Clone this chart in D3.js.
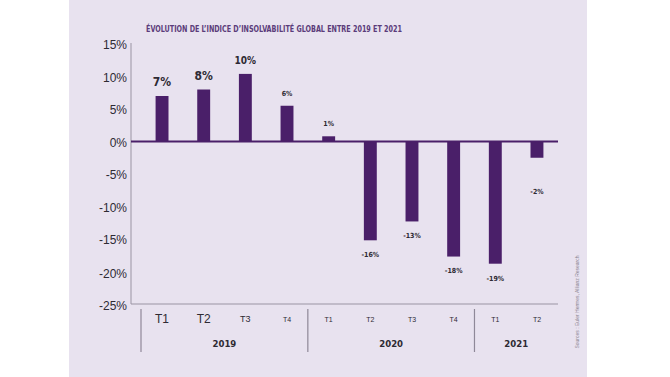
<!DOCTYPE html>
<html>
<head>
<meta charset="utf-8">
<script src="https://cdn.jsdelivr.net/npm/d3@7"></script>
<style>
  body { margin: 0; background: #fff; }
  svg { display: block; }
</style>
</head>
<body>
<div id="chart"></div>
<script>
'use strict';

// data
const quarters = ['T1', 'T2', 'T3', 'T4', 'T1', 'T2', 'T3', 'T4', 'T1', 'T2'];
const years = ['2019', '2019', '2019', '2019', '2020', '2020', '2020', '2020', '2021', '2021'];
const values = [7, 8, 10.4, 5.5, 0.8, -15.2, -12.3, -17.7, -18.8, -2.5];
const valueLabels = ['7%', '8%', '10%', '6%', '1%', '-16%', '-13%', '-18%', '-19%', '-2%'];
const yTicks = [15, 10, 5, 0, -5, -10, -15, -20, -25];

const width = 670;
const height = 377;
const barColor = '#4a1f69';
const textColor = '#2e2a33';
const font = '"Liberation Sans", Arial, sans-serif';
const narrow = '"Liberation Sans Narrow", "DejaVu Sans Condensed", sans-serif';

// label sizes vary in the original layout
const labelSize = [12, 12, 10, 7, 7, 7, 7, 7, 7, 7];
const tickSize = [12, 12, 9, 7, 7, 7, 7, 7, 7, 7];
const labelGap = [14, 14, 13, 12, 13, 14, 14, 14, 15, 34];

const svg = d3.select('#chart')
  .append('svg')
    .attr('width', width)
    .attr('height', height);

// lavender panel
svg.append('rect')
  .attr('x', 69)
  .attr('y', 0)
  .attr('width', 518)
  .attr('height', 377)
  .attr('fill', '#e8e2ef');

svg.append('text')
  .attr('x', 146)
  .attr('y', 32)
  .attr('font-family', narrow)
  .attr('font-weight', 'bold')
  .attr('font-size', 8.5)
  .attr('fill', '#5b3c7a')
  .attr('textLength', 256)
  .attr('lengthAdjust', 'spacingAndGlyphs')
  .text('ÉVOLUTION DE L\u2019INDICE D\u2019INSOLVABILITÉ GLOBAL ENTRE 2019 ET 2021');

const axisX = 131;
const axisEnd = 558;

const y = d3.scaleLinear()
  .domain([-25, 15])
  .range([304, 44]);

const x = d3.scaleBand()
  .domain(d3.range(values.length))
  .range([141, axisEnd])
  .paddingInner(0.69)
  .paddingOuter(0.35);

// y axis line
svg.append('line')
  .attr('x1', axisX).attr('x2', axisX)
  .attr('y1', y(15) - 1).attr('y2', y(-25))
  .attr('stroke', '#9a94a3')
  .attr('stroke-width', 1);

// bottom line
svg.append('line')
  .attr('x1', axisX).attr('x2', axisEnd)
  .attr('y1', y(-25)).attr('y2', y(-25))
  .attr('stroke', '#9a94a3')
  .attr('stroke-width', 1);

svg.append('g')
  .selectAll('text')
  .data(yTicks)
  .enter()
  .append('text')
    .attr('x', 127)
    .attr('y', d => y(d) + (d < -15 ? 6 : 5))
    .attr('text-anchor', 'end')
    .attr('font-family', font)
    .attr('font-size', 12)
    .attr('fill', textColor)
    .text(d => d + '%');

// bars
svg.append('g')
  .selectAll('rect')
  .data(values)
  .enter()
  .append('rect')
    .attr('x', (d, i) => x(i))
    .attr('y', d => y(Math.max(0, d)))
    .attr('width', x.bandwidth())
    .attr('height', d => Math.abs(y(d) - y(0)))
    .attr('fill', barColor);

// zero line
svg.append('line')
  .attr('x1', axisX).attr('x2', axisEnd)
  .attr('y1', y(0)).attr('y2', y(0))
  .attr('stroke', barColor)
  .attr('stroke-width', 2);

// value labels
svg.append('g')
  .selectAll('text')
  .data(values)
  .enter()
  .append('text')
    .attr('x', (d, i) => x(i) + x.bandwidth() / 2)
    .attr('y', (d, i) => d >= 0
      ? y(d) - labelGap[i] + labelSize[i] * 0.35
      : y(d) + labelGap[i] + labelSize[i] * 0.35)
    .attr('text-anchor', 'middle')
    .attr('font-family', narrow)
    .attr('font-weight', 'bold')
    .attr('font-size', (d, i) => labelSize[i])
    .attr('fill', textColor)
    .text((d, i) => valueLabels[i]);

// quarter ticks
svg.append('g')
  .selectAll('text')
  .data(quarters)
  .enter()
  .append('text')
    .attr('x', (d, i) => x(i) + x.bandwidth() / 2)
    .attr('y', (d, i) => 319 + tickSize[i] * 0.36)
    .attr('text-anchor', 'middle')
    .attr('font-family', font)
    .attr('font-size', (d, i) => tickSize[i])
    .attr('fill', textColor)
    .text(d => d);

// year groups
const yearNames = Array.from(new Set(years));
const groups = yearNames.map((yr) => {
  const idx = years.map((v, i) => v === yr ? i : -1).filter(i => i >= 0);
  const first = idx[0];
  const last = idx[idx.length - 1];
  const left = first === 0 ? x.range()[0] : (x(first - 1) + x(first) + x.bandwidth()) / 2;
  const right = last === years.length - 1 ? x.range()[1] : (x(last) + x(last + 1) + x.bandwidth()) / 2;
  return { year: yr, left: left, right: right };
});

svg.append('g')
  .selectAll('line')
  .data(groups)
  .enter()
  .append('line')
    .attr('x1', d => d.left).attr('x2', d => d.left)
    .attr('y1', 309).attr('y2', 352)
    .attr('stroke', '#8f8898')
    .attr('stroke-width', 1.2);

svg.append('g')
  .selectAll('text')
  .data(groups)
  .enter()
  .append('text')
    .attr('x', d => (d.left + d.right) / 2)
    .attr('y', 347)
    .attr('text-anchor', 'middle')
    .attr('font-family', narrow)
    .attr('font-weight', 'bold')
    .attr('font-size', 9.5)
    .attr('fill', textColor)
    .text(d => d.year);

// source, rotated
svg.append('text')
  .attr('transform', 'translate(579,302) rotate(-90)')
  .attr('text-anchor', 'middle')
  .attr('font-family', font)
  .attr('font-size', 5)
  .attr('fill', '#8a8490')
  .text('Sources : Euler Hermes, Allianz Research');
</script>
</body>
</html>
